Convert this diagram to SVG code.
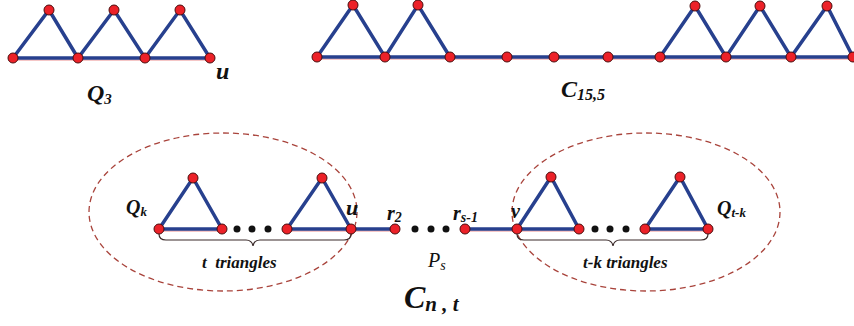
<svg xmlns="http://www.w3.org/2000/svg" width="854" height="326" viewBox="0 0 854 326">
<style>
.e{stroke:#27408e;stroke-width:3.5;stroke-linecap:round;fill:none}
.r{stroke:#d44;stroke-width:1;fill:none;opacity:0.6}
.n{fill:#ec2128;stroke:#4a0d0d;stroke-width:1}
.d{fill:#111}
.lab{font-family:'Liberation Serif','Times New Roman','DejaVu Serif',serif;font-weight:bold;font-style:italic;fill:#111}
.ps{font-family:'Liberation Serif','Times New Roman','DejaVu Serif',serif;font-style:italic;fill:#111}
.ell{fill:none;stroke:#a9443c;stroke-width:1.3;stroke-dasharray:6,4}
.br{fill:none;stroke:#3a2a2a;stroke-width:1.2}
</style>
<rect width="854" height="326" fill="#fff"/>
<g id="connectors">
  <path class="r" d="M13,60 H210"/>
  <path class="e" d="M13,58 H210 M13,58 L49,10 L78,58 L114,10 L145,58 L180,10 L210,58"/>
  <path class="r" d="M317,59 H854"/>
  <path class="e" d="M317,57 H854 M317,57 L353,5 L385,57 L418,5 L450,57 M660,57 L695,6 L726,57 L760,6 L791,57 L827,6 L853,57"/>
  <path class="r" d="M159,231 H222 M287,231 H395 M465,231 H579 M645,231 H708"/>
  <path class="e" d="M159,229 H222 L193,178 Z M287,229 H395 M287,229 L322,178 L351,229 M465,229 H579 L551,177 L517,229 M645,229 H708 L680,177 Z"/>
</g>
<g id="ellipses">
  <ellipse class="ell" cx="223" cy="212" rx="134" ry="79"/>
  <ellipse class="ell" cx="646" cy="212" rx="134" ry="79"/>
</g>
<g id="braces">
  <path class="br" d="M159,234 Q159,240 166,240 H246 Q252,240 253,246 Q254,240 260,240 H344 Q351,240 351,234"/>
  <path class="br" d="M517,234 Q517,240 524,240 H606 Q612,240 613,246 Q614,240 620,240 H701 Q708,240 708,234"/>
</g>
<g id="Q3">
  <circle class="n" cx="13" cy="58" r="5"/><circle class="n" cx="78" cy="58" r="5"/>
  <circle class="n" cx="145" cy="58" r="5"/><circle class="n" cx="210" cy="58" r="5"/>
  <circle class="n" cx="49" cy="10" r="5"/><circle class="n" cx="114" cy="10" r="5"/>
  <circle class="n" cx="180" cy="10" r="5"/>
  <text class="lab" x="216" y="79" font-size="24">u</text>
  <text class="lab" x="87" y="101" font-size="24">Q<tspan font-size="15" dy="3">3</tspan></text>
</g>
<g id="C15_5">
  <circle class="n" cx="317" cy="57" r="5"/><circle class="n" cx="385" cy="57" r="5"/>
  <circle class="n" cx="450" cy="57" r="5"/><circle class="n" cx="507" cy="57" r="5"/>
  <circle class="n" cx="554" cy="57" r="5"/><circle class="n" cx="608" cy="57" r="5"/>
  <circle class="n" cx="660" cy="57" r="5"/><circle class="n" cx="726" cy="57" r="5"/>
  <circle class="n" cx="791" cy="57" r="5"/><circle class="n" cx="853" cy="57" r="5"/>
  <circle class="n" cx="353" cy="5" r="5"/><circle class="n" cx="418" cy="5" r="5"/>
  <circle class="n" cx="695" cy="6" r="5"/><circle class="n" cx="760" cy="6" r="5"/>
  <circle class="n" cx="827" cy="6" r="5"/>
  <text class="lab" x="561" y="97" font-size="24">C<tspan font-size="16" dy="3">15,5</tspan></text>
</g>
<g id="Qk">
  <circle class="n" cx="159" cy="229" r="5"/><circle class="n" cx="222" cy="229" r="5"/>
  <circle class="n" cx="193" cy="178" r="5"/>
  <circle class="n" cx="287" cy="229" r="5"/><circle class="n" cx="322" cy="178" r="5"/>
  <circle class="d" cx="237" cy="229" r="3.5"/><circle class="d" cx="252" cy="229" r="3.5"/><circle class="d" cx="268" cy="229" r="3.5"/>
  <text class="lab" x="126" y="214" font-size="20">Q<tspan font-size="13" dy="2">k</tspan></text>
  <text class="lab" x="202" y="268" font-size="17" xml:space="preserve">t  triangles</text>
</g>
<g id="path">
  <circle class="n" cx="351" cy="229" r="5"/>
  <circle class="n" cx="395" cy="229" r="5"/>
  <circle class="d" cx="415" cy="229" r="3.5"/><circle class="d" cx="431" cy="229" r="3.5"/><circle class="d" cx="446" cy="229" r="3.5"/>
  <circle class="n" cx="465" cy="229" r="5"/>
  <circle class="n" cx="517" cy="229" r="5"/>
  <text class="lab" x="346" y="215" font-size="22">u</text>
  <text class="lab" x="387" y="220" font-size="20">r<tspan font-size="14" dy="2">2</tspan></text>
  <text class="lab" x="453" y="220" font-size="20">r<tspan font-size="14" dy="2">s-1</tspan></text>
  <text class="lab" x="511" y="218" font-size="20">v</text>
  <text class="ps" x="428" y="267" font-size="20">P<tspan font-size="14" dy="3">s</tspan></text>
  <text class="lab" x="404" y="308" font-size="32">C<tspan font-size="21" dy="3">n , t</tspan></text>
</g>
<g id="Qtk">
  <circle class="n" cx="579" cy="229" r="5"/><circle class="n" cx="551" cy="177" r="5"/>
  <circle class="d" cx="595" cy="229" r="3.5"/><circle class="d" cx="610" cy="229" r="3.5"/><circle class="d" cx="626" cy="229" r="3.5"/>
  <circle class="n" cx="645" cy="229" r="5"/><circle class="n" cx="708" cy="229" r="5"/>
  <circle class="n" cx="680" cy="177" r="5"/>
  <text class="lab" x="717" y="215" font-size="20">Q<tspan font-size="13" dy="2">t-k</tspan></text>
  <text class="lab" x="583" y="268" font-size="17">t-k triangles</text>
</g>
</svg>
